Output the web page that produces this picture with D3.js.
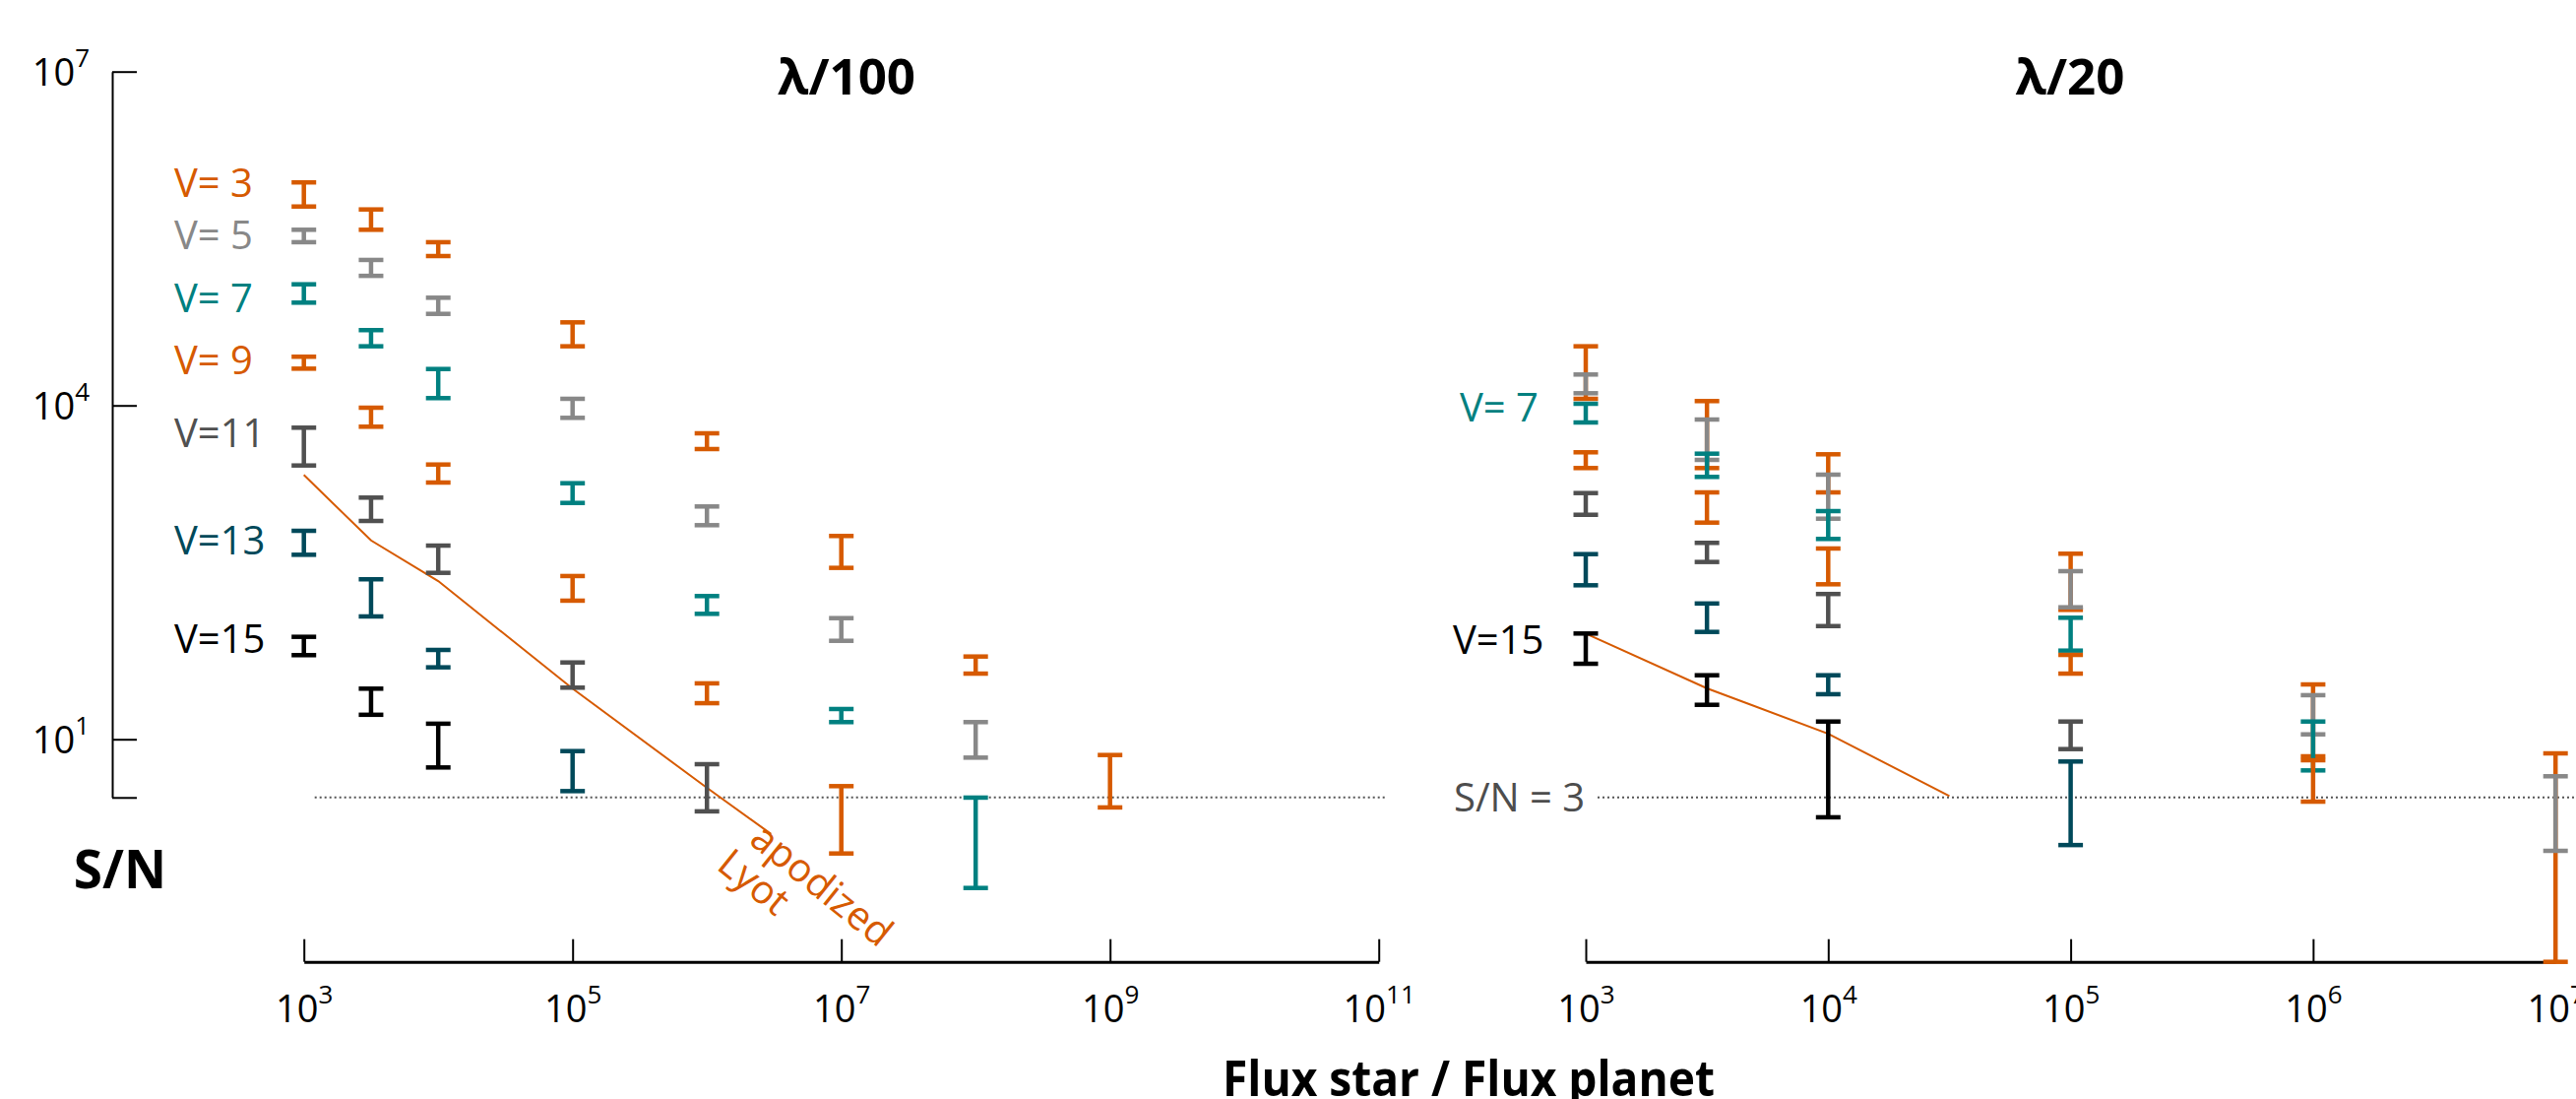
<!DOCTYPE html>
<html>
<head>
<meta charset="utf-8">
<script src="https://cdn.jsdelivr.net/npm/d3@7"></script>
<style>
  body { margin: 0; background: #fff; }
  svg { display: block; font-family: "Open Sans", sans-serif; }
</style>
</head>
<body>
<svg id="chart"></svg>
<script>
// S/N vs contrast, two panels (lambda/100 and lambda/20)
var width = 2617;
var height = 1116;

// ---- data ----
var vNames = ["V= 3", "V= 5", "V= 7", "V= 9", "V=11", "V=13", "V=15"];

// x positions (flux star / flux planet) of the columns
var fluxLeft = [1e3, 3162, 1e4, 1e5, 1e6, 1e7, 1e8, 1e9];
var fluxRight = [1e3, 3162, 1e4, 1e5, 1e6, 1e7];

// S/N ranges [low, high] per column, one row per magnitude
var snLeft = [
    [[6.13e5, 1.01e6], [3.79e5, 5.77e5], [2.20e5, 2.93e5], [3.40e4, 5.58e4], [4055, 5617], [347, 671], [38.9, 55.4], [2.44, 7.22]],
    [[2.93e5, 3.79e5], [1.46e5, 2.03e5], [6.65e4, 9.29e4], [7735, 11470], [839, 1236], [76.7, 122.6], [6.84, 14.26], null],
    [[8.39e4, 1.226e5], [3.40e4, 4.75e4], [1.163e4, 2.125e4], [1330, 2000], [134, 193.5], [14.26, 18.7], [0.461, 2.99], null],
    [[2.14e4, 2.74e4], [6440, 9540], [2028, 2944], [176, 293], [21.1, 31.8], [0.941, 3.79], null, null],
    [[2886, 6310], [916, 1485], [313, 550], [29.1, 49.0], [2.25, 5.97], null, null, null],
    [[455, 747], [127, 274], [44.3, 63.5], [3.42, 7.83], null, null, null, null],
    [[57.0, 83.3], [16.6, 28.5], [5.58, 13.8], null, null, null, null, null]
];

var snRight = [
    [[11470, 34000], [2736, 10940], [1654, 3639], [145.5, 465], [7.03, 31.1], [0.1, 7.47]],
    [[12870, 18960], [3240, 7470], [960, 2388], [153.4, 324], [11.07, 24.9], [0.994, 4.65]],
    [[7028, 10350], [2278, 3685], [631, 1123], [62.6, 123.6], [5.25, 14.43], null],
    [[2736, 3792], [885, 1654], [247, 518], [38.9, 57.3], [2.75, 6.48], null],
    [[1041, 1631], [392, 582], [104, 202], [8.16, 14.43], null, null],
    [[242, 461], [92.2, 166], [25.4, 37.6], [1.12, 6.31], null, null],
    [[47.7, 89.2], [20.4, 37.6], [1.99, 14.43], null, null, null]
];

// apodized Lyot curves
var lyotLeftX = [1e3, 3162, 1e4, 1e5, 1e6, 3e6];
var lyotLeftY = [2372, 612, 264, 28.5, 3.66, 1.41];
var lyotRightX = [1e3, 3162, 1e4, 31623];
var lyotRightY = [89.2, 28.7, 11.2, 3.09];

var snLimit = 3;
var yTicks = [3, 10, 1e4, 1e7];
var xTicksLeft = [1e3, 1e5, 1e7, 1e9, 1e11];
var xTicksRight = [1e3, 1e4, 1e5, 1e6, 1e7];

// ---- styles ----
var orange = "#d65a00";
var colors = [orange, "#888888", "#008080", orange, "#505050", "#00495a", "#000000"];
var labelY = [200, 253, 317, 380, 454, 563, 663];

var svg = d3.select("svg#chart")
    .attr("width", width)
    .attr("height", height);

svg.append("rect").attr("width", width).attr("height", height).attr("fill", "#fff");

// scales
var y = d3.scaleLog().domain([0.1, 1e7]).range([976.7, 72.7]);
var xL = d3.scaleLog().domain([1e3, 1e11]).range([308.7, 1400.7]);
var xR = d3.scaleLog().domain([1e3, 1e7]).range([1611, 2596.2]);

function supLabels(sel, anchor) {
    sel.each(function(d) {
        var t = d3.select(this);
        var e = Math.round(Math.log10(d));
        t.text(null)
            .attr("fill", "#000")
            .attr("font-size", 38)
            .attr("text-anchor", anchor);
        t.append("tspan").text("10");
        t.append("tspan").attr("dy", -19).attr("font-size", 26).text(e);
    });
}

// y axis (left panel only)
var yAxisScale = d3.scaleLog().domain([snLimit, 1e7]).range([y(snLimit), y(1e7)]);
var gy = svg.append("g")
    .attr("transform", "translate(114,0)")
    .call(d3.axisRight(yAxisScale).tickValues(yTicks).tickSize(25).tickSizeOuter(0));
gy.attr("font-family", null).attr("font-size", null);
gy.selectAll("path, line").attr("stroke", "#000").attr("stroke-width", 2);
gy.selectAll(".tick text").filter(function(d) { return d === snLimit; }).remove();
gy.selectAll(".tick text")
    .attr("x", -23)
    .attr("dy", null)
    .attr("y", 14)
    .call(supLabels, "end");

// x axes
function xAxis(scale, ticks) {
    var g = svg.append("g")
        .attr("transform", "translate(0," + y(0.1) + ")")
        .call(d3.axisBottom(scale).tickValues(ticks).tickSize(-23).tickSizeOuter(0));
    g.attr("font-family", null).attr("font-size", null);
    g.select(".domain").attr("stroke", "#000").attr("stroke-width", 3);
    g.selectAll(".tick line").attr("stroke", "#000").attr("stroke-width", 2);
    g.selectAll(".tick text")
        .attr("y", 61)
        .attr("dy", null)
        .call(supLabels, "middle");
}
xAxis(xL, xTicksLeft);
xAxis(xR, xTicksRight);

// S/N = 3 dotted reference
var dotted = svg.append("g")
    .attr("stroke", "#555")
    .attr("stroke-width", 2)
    .attr("stroke-dasharray", "2,3");
dotted.append("line")
    .attr("x1", xL(1e3) + 11).attr("x2", 1407)
    .attr("y1", y(snLimit)).attr("y2", y(snLimit));
dotted.append("line")
    .attr("x1", xR(1e3) + 12).attr("x2", width)
    .attr("y1", y(snLimit)).attr("y2", y(snLimit));

// lyot curves
var line = d3.line();
svg.append("path")
    .attr("d", line(lyotLeftX.map(function(d, i) { return [xL(d), y(lyotLeftY[i])]; })))
    .attr("fill", "none").attr("stroke", orange).attr("stroke-width", 2);
svg.append("path")
    .attr("d", line(lyotRightX.map(function(d, i) { return [xR(d), y(lyotRightY[i])]; })))
    .attr("fill", "none").attr("stroke", orange).attr("stroke-width", 2);

// error bars
function errorBars(data, flux, xs) {
    data.forEach(function(row, s) {
        var pts = [];
        row.forEach(function(r, i) { if (r) pts.push({ x: flux[i], lo: r[0], hi: r[1] }); });
        var g = svg.append("g").attr("stroke", colors[s]).attr("stroke-width", 4.5);
        var bar = g.selectAll("g.bar").data(pts).enter().append("g").attr("class", "bar");
        bar.append("line")
            .attr("x1", function(d) { return xs(d.x); })
            .attr("x2", function(d) { return xs(d.x); })
            .attr("y1", function(d) { return y(d.lo); })
            .attr("y2", function(d) { return y(d.hi); });
        ["lo", "hi"].forEach(function(k) {
            bar.append("line")
                .attr("x1", function(d) { return xs(d.x) - 12.5; })
                .attr("x2", function(d) { return xs(d.x) + 12.5; })
                .attr("y1", function(d) { return y(d[k]); })
                .attr("y2", function(d) { return y(d[k]); });
        });
    });
}
errorBars(snLeft, fluxLeft, xL);
errorBars(snRight, fluxRight, xR);

// labels
svg.selectAll("text.vname").data(vNames).enter().append("text")
    .attr("class", "vname")
    .attr("x", 177)
    .attr("y", function(d, i) { return labelY[i]; })
    .attr("font-size", 40)
    .attr("fill", function(d, i) { return colors[i]; })
    .text(function(d) { return d; });

svg.append("text").attr("x", 1483).attr("y", 428).attr("font-size", 40)
    .attr("fill", colors[2]).text(vNames[2]);
svg.append("text").attr("x", 1476).attr("y", 664).attr("font-size", 40)
    .attr("fill", colors[6]).text(vNames[6]);
svg.append("text").attr("x", 1477).attr("y", 824).attr("font-size", 40)
    .attr("fill", "#4d4d4d").text("S/N = " + snLimit);

svg.append("text").attr("transform", "translate(833,901) rotate(39)")
    .attr("text-anchor", "middle").attr("dy", "0.27em")
    .attr("font-size", 40).attr("fill", orange).text("apodized");
svg.append("text").attr("transform", "translate(764,898) rotate(39)")
    .attr("text-anchor", "middle").attr("dy", "0.27em")
    .attr("font-size", 40).attr("fill", orange).text("Lyot");

// titles
svg.append("text").attr("x", 860).attr("y", 96).attr("text-anchor", "middle")
    .attr("font-size", 51).attr("font-weight", "bold").text("λ/100");
svg.append("text").attr("x", 2103).attr("y", 96).attr("text-anchor", "middle")
    .attr("font-size", 51).attr("font-weight", "bold").text("λ/20");
svg.append("text").attr("x", 169).attr("y", 902).attr("text-anchor", "end")
    .attr("font-size", 53).attr("font-weight", "bold").text("S/N");
svg.append("text").attr("x", 1242).attr("y", 1113)
    .attr("font-size", 50).attr("font-weight", "bold")
    .attr("textLength", 500).attr("lengthAdjust", "spacingAndGlyphs")
    .text("Flux star / Flux planet");
</script>
</body>
</html>
